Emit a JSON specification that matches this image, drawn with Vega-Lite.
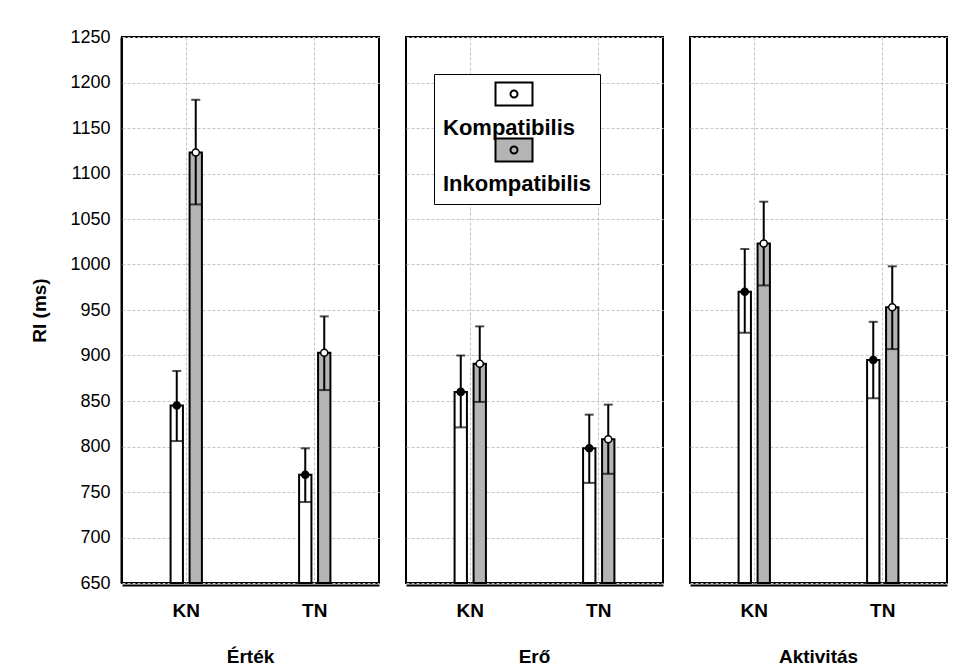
{
  "$schema": "https://vega.github.io/schema/vega-lite/v6.json",
  "padding": {"left": 30, "top": 28, "right": 5, "bottom": 5},
  "background": "white",
  "config": {
    "font": "Liberation Sans",
    "view": {"stroke": "black", "strokeWidth": 2},
    "axis": {"gridColor": "#c4c4c4", "gridDash": [3, 2], "gridWidth": 1, "domainColor": "black", "domainWidth": 2, "labelColor": "black", "titleColor": "black"}
  },
  "data": {"values": [
    {"dim": "Érték", "grp": "KN", "cond": "Kompatibilis", "mean": 845, "lo": 806, "hi": 883},
    {"dim": "Érték", "grp": "KN", "cond": "Inkompatibilis", "mean": 1123, "lo": 1066, "hi": 1181},
    {"dim": "Érték", "grp": "TN", "cond": "Kompatibilis", "mean": 769, "lo": 739, "hi": 798},
    {"dim": "Érték", "grp": "TN", "cond": "Inkompatibilis", "mean": 903, "lo": 862, "hi": 943},
    {"dim": "Erő", "grp": "KN", "cond": "Kompatibilis", "mean": 860, "lo": 821, "hi": 900},
    {"dim": "Erő", "grp": "KN", "cond": "Inkompatibilis", "mean": 891, "lo": 849, "hi": 932},
    {"dim": "Erő", "grp": "TN", "cond": "Kompatibilis", "mean": 798, "lo": 760, "hi": 835},
    {"dim": "Erő", "grp": "TN", "cond": "Inkompatibilis", "mean": 808, "lo": 770, "hi": 846},
    {"dim": "Aktivitás", "grp": "KN", "cond": "Kompatibilis", "mean": 970, "lo": 925, "hi": 1017},
    {"dim": "Aktivitás", "grp": "KN", "cond": "Inkompatibilis", "mean": 1023, "lo": 977, "hi": 1069},
    {"dim": "Aktivitás", "grp": "TN", "cond": "Kompatibilis", "mean": 895, "lo": 853, "hi": 937},
    {"dim": "Aktivitás", "grp": "TN", "cond": "Inkompatibilis", "mean": 953, "lo": 907, "hi": 998}
  ]},
  "facet": {
    "column": {
      "field": "dim", "type": "nominal", "sort": ["Érték", "Erő", "Aktivitás"], "title": null,
      "header": {"labelOrient": "bottom", "labelFontSize": 19, "labelFontWeight": "bold", "labelColor": "black", "labelPadding": 28}
    }
  },
  "spacing": 25,
  "spec": {
    "width": 257,
    "height": 546,
    "encoding": {
      "x": {
        "field": "grp", "type": "nominal", "sort": ["KN", "TN"],
        "scale": {"paddingInner": 0.7, "paddingOuter": 0.35},
        "axis": {"title": null, "ticks": false, "labelAngle": 0, "labelFontSize": 19, "labelFontWeight": "bold", "labelPadding": 16, "bandPosition": 0.5, "grid": true}
      },
      "xOffset": {
        "field": "cond", "type": "nominal", "sort": ["Kompatibilis", "Inkompatibilis"],
        "scale": {"paddingInner": 0.35, "paddingOuter": 0.19}
      }
    },
    "layer": [
      {
        "mark": {"type": "bar", "stroke": "black", "strokeWidth": 2},
        "encoding": {
          "y": {
            "field": "mean", "type": "quantitative", "title": "RI (ms)",
            "scale": {"domain": [650, 1250], "zero": false, "nice": false},
            "axis": {"values": [650, 700, 750, 800, 850, 900, 950, 1000, 1050, 1100, 1150, 1200, 1250], "format": "d", "ticks": false, "labelFontSize": 18, "labelPadding": 11, "titleFontSize": 19, "titleFontWeight": "bold", "titlePadding": 20}
          },
          "y2": {"datum": 650},
          "fill": {
            "field": "cond", "type": "nominal",
            "scale": {"domain": ["Kompatibilis", "Inkompatibilis"], "range": ["white", "#b4b4b4"]},
            "legend": {
              "title": null, "orient": "none", "legendX": 312, "legendY": 37, "direction": "vertical",
              "symbolType": "M8.3,-2.3H15.7V2.3H8.3Z M12.7,0 A0.7,0.7 0 1,1 11.3,0 A0.7,0.7 0 1,1 12.7,0Z",
              "symbolSize": 100, "symbolStrokeColor": "black", "symbolStrokeWidth": 2,
              "labelExpr": "['', datum.label]", "labelBaseline": "top",
              "labelFontSize": 22, "labelFontWeight": "bold", "labelColor": "black", "labelOffset": -22,
              "strokeColor": "black", "padding": 9, "fillColor": "white", "rowPadding": -5
            }
          }
        }
      },
      {
        "mark": {"type": "rule", "color": "black", "strokeWidth": 2},
        "encoding": {
          "y": {"field": "lo", "type": "quantitative", "title": "RI (ms)"},
          "y2": {"field": "hi"}
        }
      },
      {
        "mark": {"type": "tick", "color": "black", "thickness": 2, "size": 9, "orient": "horizontal"},
        "encoding": {"y": {"field": "hi", "type": "quantitative", "title": "RI (ms)"}}
      },
      {
        "mark": {"type": "tick", "color": "black", "thickness": 2, "size": 12, "orient": "horizontal"},
        "encoding": {"y": {"field": "lo", "type": "quantitative", "title": "RI (ms)"}}
      },
      {
        "mark": {"type": "point", "shape": "circle", "filled": true, "size": 50, "stroke": "black", "strokeWidth": 1.5, "opacity": 1},
        "encoding": {
          "y": {"field": "mean", "type": "quantitative", "title": "RI (ms)"},
          "fill": {"condition": {"test": "datum.cond === 'Kompatibilis'", "value": "black"}, "value": "white"}
        }
      }
    ]
  }
}
